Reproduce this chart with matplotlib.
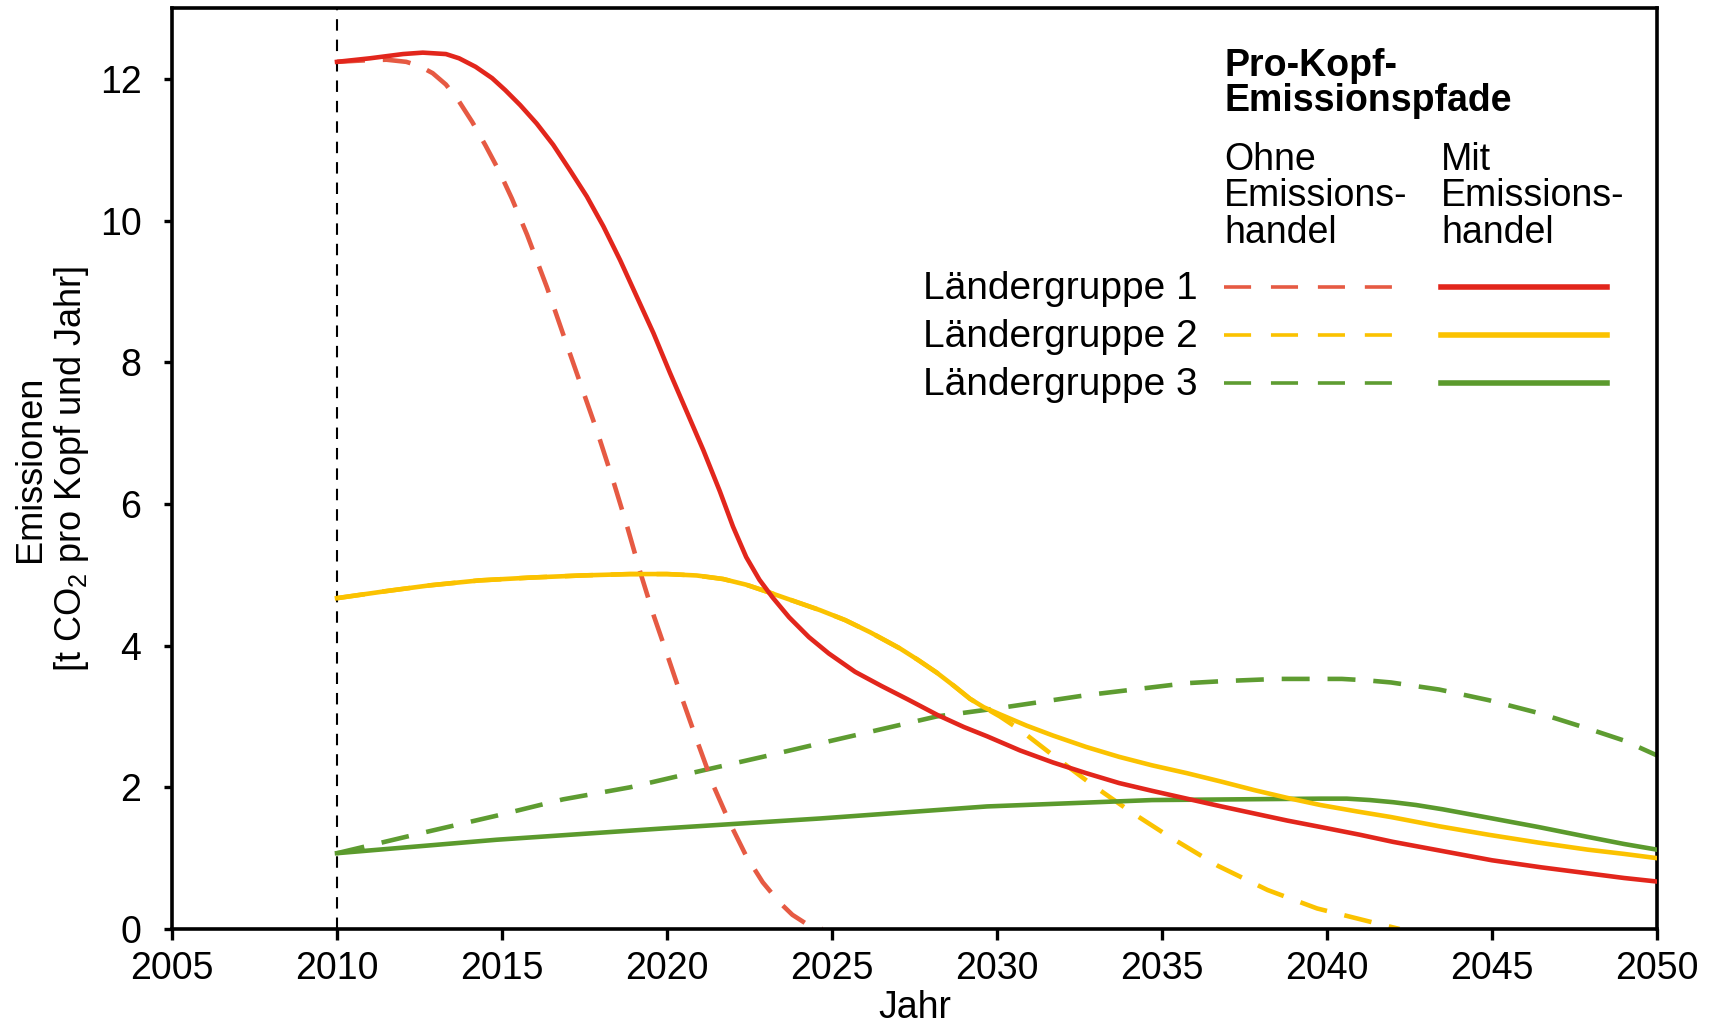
import numpy as np
import matplotlib.pyplot as plt
from matplotlib.lines import Line2D

plt.rcParams['font.family'] = ['Liberation Sans', 'DejaVu Sans']
plt.rcParams['mathtext.fontset'] = 'custom'
plt.rcParams['mathtext.rm'] = 'Liberation Sans'
plt.rcParams['mathtext.it'] = 'Liberation Sans:italic'

# Ländergruppe 1 (rot)
g1_mit_x = [2010, 2011, 2012, 2012.6, 2013.3, 2013.7, 2014.2, 2014.7, 2015.1, 2015.55,
            2016.05, 2016.55, 2017.06, 2017.57, 2018.07, 2018.58, 2019.08, 2019.59, 2020.09,
            2020.6, 2021.1, 2021.6, 2022.0, 2022.4, 2022.8, 2023.2, 2023.7, 2024.3, 2024.9,
            2025.7, 2026.5, 2027.3, 2028.2, 2029.0, 2029.7, 2030.7, 2031.7, 2032.7, 2033.7,
            2034.7, 2035.75, 2036.8, 2037.8, 2038.8, 2039.8, 2041, 2042, 2043.5, 2045,
            2046.5, 2048, 2049, 2050]
g1_mit_y = [12.24, 12.29, 12.35, 12.37, 12.35, 12.29, 12.17, 12.01, 11.84, 11.63,
            11.37, 11.07, 10.71, 10.34, 9.92, 9.44, 8.93, 8.41, 7.85,
            7.30, 6.76, 6.18, 5.68, 5.25, 4.93, 4.68, 4.40, 4.12, 3.89,
            3.63, 3.43, 3.24, 3.02, 2.85, 2.72, 2.52, 2.35, 2.2, 2.06,
            1.95, 1.84, 1.73, 1.63, 1.53, 1.44, 1.33, 1.23, 1.1, 0.97,
            0.87, 0.78, 0.72, 0.67]
g1_ohne_x = [2010, 2010.8, 2011.5, 2012.1, 2012.5, 2012.9, 2013.3, 2013.7, 2014.1, 2014.5,
             2014.9, 2015.3, 2015.76, 2016.36, 2016.85, 2017.36, 2017.9, 2018.4, 2018.8,
             2019.2, 2019.6, 2020.0, 2020.4, 2020.9, 2021.4, 2021.9, 2022.4, 2022.9, 2023.4,
             2023.8, 2024.2, 2024.7]
g1_ohne_y = [12.24, 12.26, 12.27, 12.24, 12.18, 12.08, 11.92, 11.68, 11.39, 11.06,
             10.71, 10.31, 9.80, 9.06, 8.40, 7.72, 7.0, 6.28, 5.67,
             5.02, 4.42, 3.88, 3.33, 2.67, 2.03, 1.50, 1.03, 0.66, 0.38,
             0.2, 0.08, 0.0]

# Ländergruppe 2 (gelb)
g2_mit_x = [2010, 2011.5, 2012.8, 2014.3, 2015.85, 2017.4, 2018.88, 2020, 2020.9, 2021.7,
            2022.4, 2023.1, 2023.9, 2024.64, 2025.4, 2026.15, 2027.06, 2027.6, 2028.17,
            2028.7, 2029.18, 2029.6, 2030.09, 2030.9, 2031.7, 2032.7, 2033.7, 2034.7,
            2035.75, 2036.8, 2037.8, 2038.8, 2039.8, 2040.9, 2041.94, 2043.4, 2044.9,
            2046.4, 2047.9, 2049, 2050]
g2_mit_y = [4.67, 4.77, 4.85, 4.92, 4.96, 4.99, 5.01, 5.01, 4.99, 4.94,
            4.86, 4.75, 4.62, 4.5, 4.36, 4.19, 3.96, 3.8, 3.62,
            3.43, 3.25, 3.13, 3.03, 2.87, 2.73, 2.57, 2.43, 2.31,
            2.2, 2.08, 1.96, 1.85, 1.75, 1.66, 1.58, 1.45, 1.33,
            1.22, 1.12, 1.06, 1.0]
g2_ohne_x = [2010, 2011.5, 2012.8, 2014.3, 2015.85, 2017.4, 2018.88, 2020, 2020.9, 2021.7,
             2022.4, 2023.1, 2023.9, 2024.64, 2025.4, 2026.15, 2027.06, 2027.6, 2028.17,
             2028.7, 2029.18, 2029.6, 2030.09, 2030.7, 2031.7, 2032.9, 2034.1, 2035.2,
             2036.7, 2038.2, 2039.7, 2041.5, 2042.2]
g2_ohne_y = [4.67, 4.77, 4.85, 4.92, 4.96, 4.99, 5.01, 5.01, 4.99, 4.94,
             4.86, 4.75, 4.62, 4.5, 4.36, 4.19, 3.96, 3.8, 3.62,
             3.43, 3.25, 3.13, 3.0, 2.81, 2.45, 2.03, 1.64, 1.31,
             0.89, 0.55, 0.29, 0.08, 0.0]

# Ländergruppe 3 (grün)
g3_mit_x = [2010, 2014.84, 2019.9, 2024.64, 2029.7, 2034.7, 2039.8, 2040.6, 2041.3, 2042.0,
            2042.7, 2043.5, 2044.2, 2044.9, 2046.4, 2047.9, 2049, 2050]
g3_mit_y = [1.07, 1.26, 1.42, 1.56, 1.73, 1.82, 1.84, 1.84, 1.82, 1.79,
            1.75, 1.69, 1.63, 1.57, 1.44, 1.30, 1.2, 1.12]
g3_ohne_x = [2010, 2012.8, 2014.84, 2016.85, 2018.88, 2021.1, 2022.9, 2025.1, 2028.17, 2030.09,
             2032.7, 2035.75, 2036.9, 2038.5, 2040.45, 2041.2, 2041.94, 2043.4, 2044.9,
             2046.4, 2047.9, 2049, 2050]
g3_ohne_y = [1.07, 1.38, 1.6, 1.83, 2.0, 2.24, 2.43, 2.67, 3.0, 3.12,
             3.30, 3.47, 3.50, 3.53, 3.53, 3.51, 3.48, 3.38, 3.23,
             3.05, 2.83, 2.66, 2.45]

gruppen = ['Ländergruppe 1', 'Ländergruppe 2', 'Ländergruppe 3']
farben_mit = ['#E2261C', '#FBC200', '#5B9A2D']
farben_ohne = ['#E65A43', '#FBC200', '#5E9C31']

W, H = 1710, 1028
fig = plt.figure(figsize=(W / 100, H / 100), dpi=100)
ax = fig.add_axes([172 / W, 1 - 929 / H, (1657 - 172) / W, (929 - 8) / H])

def px(x, y):
    return x / W, 1 - y / H

fs = 27
dash_plot = (6.1, 3.9)

ax.axvline(2010, color='black', lw=1.5, dashes=(5.5, 4.3), zorder=1)

ohne = [(g1_ohne_x, g1_ohne_y), (g2_ohne_x, g2_ohne_y), (g3_ohne_x, g3_ohne_y)]
mit = [(g1_mit_x, g1_mit_y), (g2_mit_x, g2_mit_y), (g3_mit_x, g3_mit_y)]

for i in [2, 1, 0]:
    ax.plot(ohne[i][0], ohne[i][1], color=farben_ohne[i], lw=3.3, dashes=dash_plot, zorder=2)
for i in [2, 1, 0]:
    ax.plot(mit[i][0], mit[i][1], color=farben_mit[i], lw=3.3, zorder=3,
            solid_joinstyle='round')

ax.set_xlim(2005, 2050)
ax.set_ylim(0, 13)
ax.set_xticks(np.arange(2005, 2051, 5))
ax.set_yticks(np.arange(0, 13, 2))

for s in ax.spines.values():
    s.set_linewidth(2.6)
ax.tick_params(axis='x', labelsize=fs, length=8, width=2.4, pad=8)
ax.tick_params(axis='y', labelsize=fs, length=6, width=2.4, pad=16)

ax.set_xlabel('Jahr', fontsize=fs, labelpad=2)
ax.set_ylabel('Emissionen\n[t CO$_2$ pro Kopf und Jahr]', fontsize=26, labelpad=6,
              linespacing=1.15)

# Legende
fig.text(*px(1224, 76), 'Pro-Kopf-', fontsize=fs, fontweight='bold', va='baseline')
fig.text(*px(1224, 111), 'Emissionspfade', fontsize=fs, fontweight='bold', va='baseline')
for j, zeile in enumerate(['Ohne', 'Emissions-', 'handel']):
    fig.text(*px(1224, 170 + j * 36.5), zeile, fontsize=fs, va='baseline')
for j, zeile in enumerate(['Mit', 'Emissions-', 'handel']):
    fig.text(*px(1441, 170 + j * 36.5), zeile, fontsize=fs, va='baseline')

zeilen_y = [286.7, 335, 383.3]
for i, name in enumerate(gruppen):
    y = zeilen_y[i]
    fig.text(*px(1198, y + 12), name, fontsize=28, ha='right', va='baseline')
    fig.add_artist(Line2D([1224 / W, 1393 / W], [1 - y / H, 1 - y / H],
                          color=farben_ohne[i], lw=2.6, dashes=(7.5, 5.5)))
    fig.add_artist(Line2D([1441 / W, 1607 / W], [1 - y / H, 1 - y / H],
                          color=farben_mit[i], lw=4))

fig.savefig('out.png', dpi=100)
